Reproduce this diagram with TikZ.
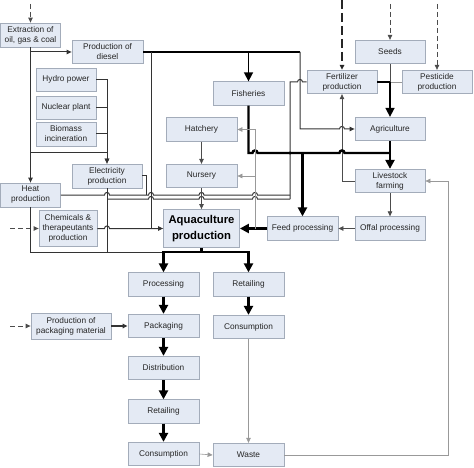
\documentclass[tikz,border=0pt]{standalone}
\usepackage{fontspec}
\setmainfont{Liberation Sans}
\usepackage{xcolor}
\usepackage{tikz}
\usetikzlibrary{arrows.meta}

\definecolor{boxfill}{HTML}{E4EAF4}
\definecolor{boxline}{HTML}{A3ACBA}

% small bump where a line crosses another one
\newcommand{\hopover}[2]{-- (#1-2.5,#2) .. controls (#1-2.5,#2-3.4) and (#1+2.5,#2-3.4) .. (#1+2.5,#2)}

\begin{document}
\begin{tikzpicture}[
    x=1pt,
    y=-1pt,
    box/.style={
        draw=boxline,
        fill=boxfill,
        line width=0.8pt,
        inner sep=1pt,
        align=center,
        text=black!85,
        font=\fontsize{8.3}{10}\selectfont,
        minimum width=71pt,
        minimum height=23.5pt
    },
    wire/.style={
        line width=1pt,
        draw=black!80
    },
    faint/.style={
        line width=0.7pt,
        draw=black!70
    },
    pale/.style={
        line width=0.6pt,
        draw=black!40
    },
    heavy/.style={
        line width=2.4pt,
        draw=black
    },
    flowtip/.style={
        -{Triangle[length=5pt,width=4.5pt]}
    },
    heavytip/.style={
        -{Triangle[length=9pt,width=9pt]}
    },
    dashin/.style={
        line width=0.9pt,
        draw=black!70,
        dash pattern=on 5pt off 3pt,
        -{Triangle[length=5pt,width=4.5pt]}
    }
]

\useasboundingbox (0,0) rectangle (474,468);


\node[box, minimum width=60pt, minimum height=24pt] (extr) at (30.5,35) {Extraction of\\oil, gas \& coal};
\node[box] (diesel) at (107.5,52) {Production of\\diesel};
\node[box, minimum width=60pt, minimum height=23pt] (hydro) at (66,79.5) {Hydro power};
\node[box, minimum width=60pt, minimum height=23pt] (nuclear) at (66,107.5) {Nuclear plant};
\node[box, minimum width=60pt, minimum height=24pt] (biomass) at (66,134) {Biomass\\incineration};
\node[box, minimum width=70pt, minimum height=24pt] (elec) at (107,176) {Electricity\\production};
\node[box, minimum width=60pt, minimum height=24pt] (heat) at (30.5,195) {Heat\\production};
\node[box, minimum width=58pt, minimum height=36pt] (chem) at (68,228.5) {Chemicals \&\\therapeutants\\production};

\node[box] (fish) at (248.5,93.5) {Fisheries};
\node[box] (hatch) at (201.5,129.5) {Hatchery};
\node[box] (nursery) at (201.5,176) {Nursery};
\node[box, minimum width=76pt, minimum height=38pt,
      font=\fontsize{11.3}{16}\selectfont\bfseries, text=black] (aqua) at (201.5,228.5) {Aquaculture\\production};

\node[box, minimum width=70pt] (seeds) at (390,52) {Seeds};
\node[box, minimum width=70pt] (fert) at (342,82) {Fertilizer\\production};
\node[box, minimum width=70pt] (pest) at (437,82) {Pesticide\\production};
\node[box, minimum width=70pt] (agri) at (390,129) {Agriculture};
\node[box, minimum width=70pt] (live) at (390,181) {Livestock\\farming};
\node[box, minimum width=70pt] (offal) at (390,228.5) {Offal processing};
\node[box] (feed) at (302.5,228.5) {Feed processing};

\node[box] (proc) at (163.5,284.5) {Processing};
\node[box] (pack) at (163.5,326) {Packaging};
\node[box] (dist) at (163.5,368) {Distribution};
\node[box] (retailA) at (163.5,411.5) {Retailing};
\node[box] (consA) at (163.5,454) {Consumption};
\node[box, minimum width=80pt, minimum height=26pt] (ppm) at (71,326) {Production of\\packaging material};
\node[box] (retailB) at (248.5,284.5) {Retailing};
\node[box] (consB) at (248.5,327) {Consumption};
\node[box] (waste) at (248.5,455) {Waste};


\coordinate (inExtr) at (30.5,4);
\coordinate (inChem) at (10,228.5);
\coordinate (inFert) at (342,0);
\coordinate (inSeeds) at (390,4);
\coordinate (inPest) at (437,4);
\coordinate (inPpm) at (10,326);

\coordinate (seedJoin) at (390,82);
\coordinate (energyUp) at (290,199);
\coordinate (foodBar) at (201.5,252);


\draw[dashin] (inExtr) -- (extr.north);
\draw[dashin] (inChem) -- (chem.west);
\draw[dashin, line width=1.3pt, draw=black!85, dash pattern=on 9pt off 4pt] (inFert) -- (fert.north);
\draw[dashin, line width=0.7pt] (inSeeds) -- (seeds.north);
\draw[dashin, line width=0.7pt] (inPest) -- (pest.north);
\draw[dashin] (inPpm) -- (ppm.west);


\draw[wire, flowtip] (extr.south) -- (heat.north);
\draw[wire, flowtip] (30.5,52) -- (diesel.west);
\draw[wire, flowtip] (30.5,153) -| (elec.north);
\draw[wire, flowtip] (hydro.east) -| (elec.north);
\draw[wire] (nuclear.east) -- (107,107.5);
\draw[wire] (biomass.east) -- (107,134);


\draw[wire, line width=1.5pt, draw=black] (diesel.east) -- (300,52);
\draw[wire, flowtip] (300,52) -- (300,129) \hopover{342}{129} -- (agri.west);
\draw[wire] (151,52) -- (151,228.5);
\draw[wire, line width=1.6pt, draw=black, heavytip] (248.5,52) -- (fish.north);


\draw[wire] (elec.east) -- (146,176) -- (146,195);
\draw[wire] (elec.south) -- (107,252);
\draw[wire] (heat.south) |- (proc.north |- foodBar);
\draw[wire, flowtip] (chem.east) \hopover{107}{228.5} -- (aqua.west);
\draw[wire] (heat.east) \hopover{107}{195} \hopover{151}{195} \hopover{201.5}{195} \hopover{255}{195} -- (290,195);
\draw[wire] (107,199) \hopover{151}{199} \hopover{201.5}{199} \hopover{255}{199} -- (energyUp);
\draw[wire] (energyUp) -- (290,82) \hopover{300}{82} -- (fert.west);
\fill (290,153) circle (1.7);


\draw[faint] (seeds.south) -- (seedJoin);
\draw[pale] (pest.west) -- (seedJoin);
\draw[wire, line width=1.6pt, draw=black] (fert.east) -- (seedJoin);
\draw[wire, line width=1.6pt, draw=black, heavytip] (seedJoin) -- (agri.north);
\draw[faint, flowtip] (live.west) -| (fert.south);


\draw[heavy] (fish.south) -- (248.5,153) \hopover{255}{153} \hopover{342}{153} -- (390,153);
\draw[heavy, heavytip] (agri.south) -- (live.north);
\draw[heavy, heavytip] (302.5,153) -- (feed.north);
\draw[faint, flowtip] (live.south) -- (offal.north);
\draw[faint, flowtip] (offal.west) -- (feed.east);
\draw[heavy, heavytip] (feed.west) -- (aqua.east);


\draw[pale] (255,228.5) -- (255,129.5);
\draw[pale, flowtip] (255,129.5) -- (hatch.east);
\draw[pale, flowtip] (255,176) -- (nursery.east);
\draw[faint, flowtip] (hatch.south) -- (nursery.north);
\draw[faint, flowtip] (nursery.south) -- (aqua.north);


\draw[heavy] (aqua.south) -- (foodBar);
\draw[heavy, heavytip] (foodBar) -| (proc.north);
\draw[heavy, heavytip] (foodBar) -| (retailB.north);
\draw[heavy, heavytip] (proc.south) -- (pack.north);
\draw[heavy, heavytip] (pack.south) -- (dist.north);
\draw[heavy, heavytip] (dist.south) -- (retailA.north);
\draw[heavy, heavytip] (retailA.south) -- (consA.north);
\draw[heavy, heavytip] (retailB.south) -- (consB.north);
\draw[wire, line width=1.3pt, flowtip] (ppm.east) -- (pack.west);


\draw[pale, flowtip] (consA.east) -- (waste.west);
\draw[pale, flowtip] (consB.south) -- (waste.north);
\draw[pale, flowtip] (waste.east) -- (448,455) |- (live.east);

\end{tikzpicture}
\end{document}
